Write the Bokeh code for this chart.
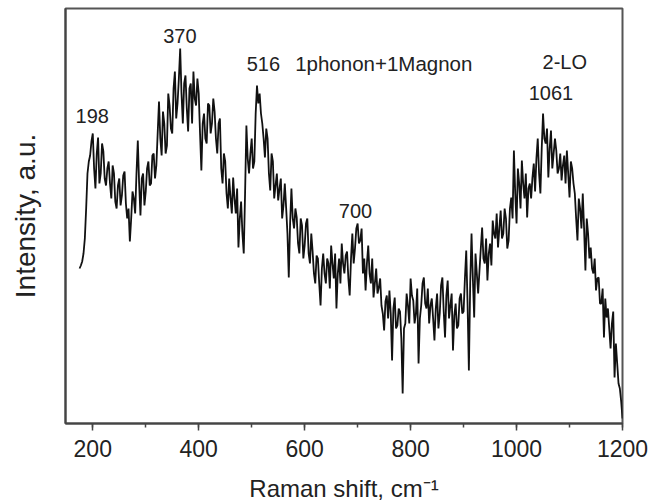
from bokeh.plotting import figure
from bokeh.models import Range1d, SingleIntervalTicker, FixedTicker, ColumnDataSource
from bokeh.core.properties import value
from bokeh.embed import file_html
from bokeh.resources import INLINE

# Raman shift grid (cm^-1): readings at 175, 180, ... 1200 and the half-steps between
shift_main = [175 + 5 * i for i in range(206)]
shift_half = [177.5 + 5 * i for i in range(205)]

# Intensity (arbitrary units) at the main grid
intensity_main = [
    155, 162, 185, 250, 268, 290, 235, 286, 250, 272,   # 175-220
    238, 262, 225, 250, 215, 245, 228, 252, 205, 182,   # 225-270
    232, 210, 283, 208, 250, 232, 262, 240, 270, 258,   # 275-320
    322, 268, 300, 278, 318, 290, 352, 320, 375, 300,   # 325-370
    348, 292, 340, 352, 318, 330, 253, 310, 280, 318,   # 375-420
    300, 312, 270, 305, 240, 262, 215, 226, 246, 210,   # 425-470
    176, 222, 170, 298, 250, 285, 262, 338, 330, 300,   # 475-520
    266, 285, 233, 262, 238, 223, 245, 218, 216, 146,   # 525-570
    235, 195, 206, 170, 198, 178, 205, 160, 172, 140,   # 575-620
    165, 118, 170, 140, 160, 178, 145, 115, 165, 180,   # 625-670
    150, 172, 128, 190, 175, 200, 183, 150, 133, 178,   # 675-720
    140, 126, 155, 136, 118, 93, 128, 133, 63, 126,     # 725-770
    98, 112, 30, 100, 118, 145, 123, 110, 60, 118,      # 775-820
    146, 115, 100, 125, 83, 130, 110, 146, 86, 143,     # 825-870
    118, 73, 120, 98, 130, 112, 173, 53, 190, 106,      # 875-920
    150, 153, 196, 160, 143, 180, 203, 185, 176, 213,   # 925-970
    190, 205, 183, 226, 273, 200, 240, 263, 225, 206,   # 975-1020
    240, 246, 232, 285, 230, 310, 280, 246, 293, 270,   # 1025-1070
    273, 255, 243, 268, 273, 226, 255, 230, 183, 215,   # 1075-1120
    230, 153, 190, 176, 150, 133, 146, 120, 86, 106,    # 1125-1170
    95, 100, 46, 60, 35, 5,                             # 1175-1200
]

# Intensity read at the half-steps (177.5, 182.5, ... 1197.5)
intensity_half = [
    158, 170, 215, 262, 282, 255, 270, 240, 280, 245,   # 177.5-222.5
    255, 240, 258, 222, 238, 218, 248, 220, 215, 205,   # 227.5-272.5
    225, 250, 240, 245, 218, 255, 238, 268, 245, 290,   # 277.5-322.5
    285, 312, 270, 330, 295, 335, 305, 345, 330, 340,   # 327.5-372.5
    315, 335, 300, 325, 345, 290, 300, 285, 320, 290,   # 377.5-422.5
    325, 285, 300, 255, 270, 230, 245, 210, 225, 235,   # 427.5-472.5
    205, 190, 230, 265, 270, 255, 310, 320, 310, 285,   # 477.5-522.5
    295, 250, 270, 225, 250, 235, 205, 240, 190, 200,   # 527.5-572.5
    205, 215, 180, 205, 165, 200, 170, 190, 150, 168,   # 577.5-622.5
    140, 155, 150, 165, 135, 160, 170, 150, 140, 160,   # 627.5-672.5
    168, 145, 165, 160, 195, 180, 195, 165, 160, 150,   # 677.5-722.5
    165, 140, 130, 145, 110, 122, 105, 110, 115, 95,    # 727.5-772.5
    115, 85, 95, 130, 100, 128, 100, 135, 105, 140,     # 777.5-822.5
    120, 135, 118, 105, 115, 95, 138, 112, 128, 105,    # 827.5-872.5
    130, 108, 95, 125, 110, 145, 120, 140, 145, 170,    # 877.5-922.5
    130, 175, 165, 185, 170, 158, 190, 210, 195, 185,   # 927.5-972.5
    215, 175, 215, 205, 230, 255, 215, 240, 250, 235,   # 977.5-1022.5
    225, 260, 265, 250, 275, 285, 295, 275, 255, 285,   # 1027.5-1072.5
    250, 270, 258, 240, 250, 262, 240, 205, 225, 195,   # 1077.5-1122.5
    195, 205, 165, 155, 165, 145, 120, 135, 125, 115,   # 1127.5-1172.5
    75, 112, 80, 40, 22,                                # 1177.5-1197.5
]

# Peak annotations
peak_labels = ["198", "370", "516", "700", "1061", "2-LO"]
peak_x = [199, 364.5, 522, 696, 1065, 1091]
peak_y = [308, 388, 360, 213, 331, 362]

mode_label = ["1phonon+1Magnon"]
mode_x = [582]
mode_y = [360]

x_tick_interval = 200

pairs = sorted(list(zip(shift_main, intensity_main)) + list(zip(shift_half, intensity_half)))
raman_shift = [a for a, b in pairs]
intensity = [b for a, b in pairs]

p = figure(width=649, height=504, output_backend="svg", toolbar_location=None,
           x_range=Range1d(148.5, 1200), y_range=Range1d(0, 415),
           min_border_left=65, min_border_right=27, min_border_top=8, min_border_bottom=81)

p.line(raman_shift, intensity, line_color="#111111", line_width=1.8)

src = ColumnDataSource(dict(x=peak_x, y=peak_y, t=peak_labels))
p.text(x="x", y="y", text="t", source=src, text_align="center", text_baseline="middle",
       text_font=value("Liberation Sans"), text_font_size="20px", text_color="#222222")
src2 = ColumnDataSource(dict(x=mode_x, y=mode_y, t=mode_label))
p.text(x="x", y="y", text="t", source=src2, text_align="left", text_baseline="middle",
       text_font=value("Liberation Sans"), text_font_size="20.5px", text_color="#222222")

p.grid.visible = False
p.background_fill_color = "white"
p.border_fill_color = "white"
p.outline_line_color = "#555555"
p.outline_line_width = 2

xa = p.xaxis[0]
xa.ticker = SingleIntervalTicker(interval=x_tick_interval, num_minor_ticks=2)
xa.major_tick_in = 0
xa.major_tick_out = 7
xa.minor_tick_in = 0
xa.minor_tick_out = 4
xa.major_tick_line_color = "#444444"
xa.minor_tick_line_color = "#444444"
xa.major_tick_line_width = 1.5
xa.minor_tick_line_width = 1.5
xa.axis_line_color = "#444444"
xa.axis_line_width = 2
xa.major_label_text_font = "Liberation Sans"
xa.major_label_text_font_size = "23px"
xa.major_label_text_color = "#222222"
xa.major_label_standoff = 9
xa.axis_label = "Raman shift, cm⁻¹"
xa.axis_label_text_font = "Liberation Sans"
xa.axis_label_text_font_size = "24px"
xa.axis_label_text_font_style = "normal"
xa.axis_label_text_color = "#222222"
xa.axis_label_standoff = 15

ya = p.yaxis[0]
ya.ticker = FixedTicker(ticks=[])
ya.major_tick_line_color = None
ya.minor_tick_line_color = None
ya.axis_line_color = "#444444"
ya.axis_line_width = 2
ya.axis_label = "Intensity, a.u."
ya.axis_label_text_font = "Liberation Sans"
ya.axis_label_text_font_size = "28px"
ya.axis_label_text_font_style = "normal"
ya.axis_label_text_color = "#222222"
ya.axis_label_standoff = 25

open("out.html", "w").write(file_html(p, INLINE))
